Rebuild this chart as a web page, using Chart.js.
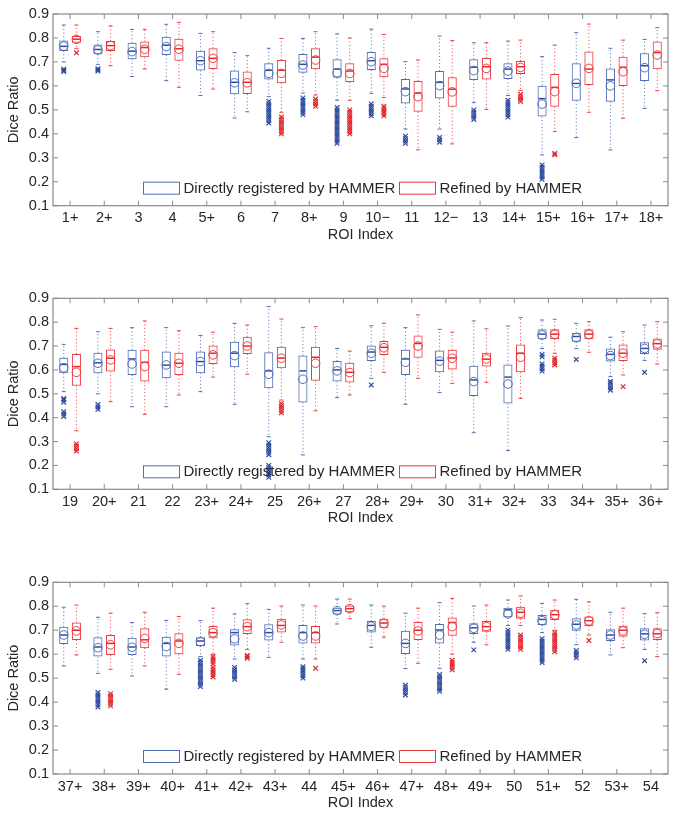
<!DOCTYPE html>
<html><head><meta charset="utf-8">
<script src="https://cdn.jsdelivr.net/npm/chart.js@4"></script>
<style>
html,body{margin:0;padding:0;background:#fff;}
#wrap{position:relative;width:675px;height:815px;overflow:hidden;}
canvas{position:absolute;left:0;}
</style>
</head><body><div id="wrap">
<canvas id="c1" width="675" height="262" style="top:0px"></canvas>
<canvas id="c2" width="675" height="262" style="top:284px"></canvas>
<canvas id="c3" width="675" height="247" style="top:568px"></canvas>
</div>
<script>
const roiLabels = ['1+','2+','3','4','5+','6','7','8+','9','10−','11','12−','13','14+','15+','16+','17+','18+',
 '19','20+','21','22','23+','24+','25','26+','27','28+','29+','30','31+','32+','33','34+','35+','36+',
 '37+','38+','39+','40+','41+','42+','43+','44','45+','46+','47+','48+','49+','50','51+','52','53+','54'];
const yTicks = [0.1,0.2,0.3,0.4,0.5,0.6,0.7,0.8,0.9];
const seriesNames = ['Directly registered by HAMMER','Refined by HAMMER'];

// "Directly registered by HAMMER" (blue)
const blueLow = [0.70,0.69,0.639,0.622,0.56,0.466,0.555,0.57,0.54,0.569,0.42,0.42,0.53,0.56,0.312,0.384,0.333,0.506,
 0.509,0.50,0.446,0.446,0.509,0.456,0.32,0.244,0.484,0.565,0.456,0.505,0.337,0.262,0.69,0.69,0.572,0.64,
 0.551,0.52,0.509,0.454,0.59,0.58,0.587,0.58,0.726,0.629,0.54,0.541,0.65,0.72,0.69,0.64,0.597,0.62];
const blueQ1 = [0.746,0.732,0.711,0.729,0.664,0.565,0.627,0.655,0.634,0.666,0.527,0.547,0.625,0.629,0.472,0.538,0.534,0.62,
 0.586,0.586,0.579,0.565,0.586,0.611,0.523,0.464,0.551,0.637,0.579,0.59,0.491,0.459,0.728,0.718,0.635,0.667,
 0.643,0.59,0.597,0.59,0.634,0.636,0.657,0.645,0.766,0.691,0.601,0.645,0.684,0.754,0.722,0.698,0.655,0.657];
const blueMed = [0.765,0.752,0.745,0.770,0.705,0.615,0.665,0.69,0.67,0.705,0.587,0.615,0.678,0.67,0.547,0.61,0.625,0.684,
 0.623,0.63,0.646,0.62,0.635,0.67,0.596,0.596,0.60,0.675,0.646,0.64,0.558,0.57,0.75,0.74,0.665,0.69,
 0.68,0.63,0.63,0.645,0.655,0.69,0.69,0.69,0.782,0.72,0.645,0.701,0.71,0.785,0.745,0.725,0.68,0.685];
const blueQ3 = [0.789,0.773,0.780,0.805,0.747,0.664,0.694,0.733,0.711,0.741,0.629,0.662,0.711,0.694,0.601,0.694,0.673,0.736,
 0.651,0.672,0.684,0.677,0.677,0.718,0.674,0.66,0.637,0.702,0.684,0.681,0.617,0.623,0.77,0.756,0.69,0.716,
 0.715,0.671,0.669,0.673,0.671,0.704,0.725,0.722,0.794,0.739,0.698,0.726,0.729,0.794,0.764,0.75,0.704,0.708];
const blueHigh = [0.854,0.826,0.836,0.857,0.819,0.739,0.757,0.798,0.817,0.837,0.701,0.808,0.780,0.787,0.722,0.822,0.757,0.794,
 0.707,0.76,0.777,0.777,0.744,0.795,0.865,0.777,0.69,0.785,0.777,0.77,0.805,0.784,0.809,0.795,0.737,0.788,
 0.796,0.754,0.732,0.741,0.74,0.768,0.787,0.805,0.83,0.805,0.771,0.815,0.801,0.826,0.812,0.829,0.775,0.769];
const blueMean = [0.766,0.750,0.743,0.764,0.705,0.613,0.652,0.687,0.655,0.701,0.576,0.601,0.664,0.662,0.524,0.611,0.600,0.676,
 0.609,0.628,0.625,0.621,0.635,0.66,0.582,0.561,0.596,0.67,0.632,0.637,0.551,0.541,0.746,0.735,0.66,0.69,
 0.68,0.627,0.629,0.632,0.652,0.664,0.69,0.676,0.782,0.716,0.645,0.68,0.708,0.768,0.74,0.722,0.68,0.683];
const blueOut = [
 [0.660,0.665,0.670],[0.662,0.667,0.672],[],[],[],[],
 [0.445,0.455,0.465,0.475,0.485,0.495,0.505,0.515,0.525,0.535],
 [0.48,0.49,0.50,0.51,0.52,0.53,0.54,0.55],
 [0.36,0.37,0.38,0.39,0.40,0.41,0.42,0.43,0.44,0.45,0.46,0.47,0.48,0.49,0.50,0.51],
 [0.475,0.485,0.495,0.505,0.515,0.525],
 [0.36,0.37,0.38,0.39],
 [0.365,0.375,0.385],
 [0.46,0.47,0.48,0.49,0.50],
 [0.47,0.48,0.49,0.50,0.51,0.52,0.53,0.54],
 [0.21,0.22,0.23,0.24,0.25,0.26,0.27],
 [],[],[],
 [0.405,0.415,0.425,0.465,0.475,0.48],
 [0.435,0.445,0.455],
 [],[],[],[],
 [0.15,0.16,0.17,0.18,0.19,0.20,0.245,0.255,0.265,0.275,0.285,0.295],
 [],[],[0.537],[],[],[],[],
 [0.595,0.605,0.615,0.625,0.655,0.665],
 [0.644],
 [0.515,0.525,0.535,0.545,0.552],
 [0.59],
 [],
 [0.38,0.39,0.40,0.41,0.42,0.43,0.44],
 [],[],
 [0.465,0.475,0.485,0.495,0.505,0.515,0.525,0.535,0.545,0.555,0.565,0.575],
 [0.495,0.505,0.515,0.525,0.535,0.545],
 [],
 [0.50,0.51,0.52,0.53,0.54,0.548],
 [],[],
 [0.43,0.44,0.45,0.46,0.47],
 [0.445,0.455,0.465,0.475,0.485,0.495,0.505,0.515],
 [0.618],
 [0.62,0.63,0.64,0.65,0.66,0.67,0.68,0.69,0.70],
 [0.565,0.575,0.585,0.595,0.605,0.615,0.625,0.635,0.645,0.655,0.665],
 [0.585,0.595,0.605,0.615],
 [],
 [0.573]
];

// "Refined by HAMMER" (red)
const redLow = [0.755,0.684,0.671,0.594,0.587,0.492,0.49,0.562,0.54,0.552,0.333,0.358,0.502,0.581,0.41,0.49,0.465,0.58,
 0.345,0.467,0.414,0.495,0.57,0.582,0.474,0.429,0.495,0.59,0.565,0.544,0.548,0.481,0.67,0.674,0.579,0.625,
 0.597,0.537,0.551,0.516,0.60,0.62,0.65,0.58,0.748,0.671,0.562,0.60,0.639,0.72,0.70,0.68,0.627,0.59];
const redQ1 = [0.780,0.746,0.719,0.705,0.670,0.566,0.611,0.669,0.616,0.636,0.492,0.513,0.627,0.65,0.513,0.604,0.60,0.669,
 0.534,0.593,0.551,0.579,0.625,0.667,0.607,0.555,0.547,0.663,0.651,0.602,0.614,0.59,0.73,0.73,0.637,0.684,
 0.659,0.597,0.625,0.60,0.666,0.684,0.69,0.645,0.775,0.708,0.659,0.677,0.694,0.748,0.743,0.718,0.673,0.659];
const redMed = [0.795,0.768,0.76,0.755,0.715,0.615,0.665,0.72,0.662,0.69,0.57,0.586,0.68,0.68,0.594,0.67,0.678,0.739,
 0.614,0.649,0.632,0.628,0.67,0.70,0.65,0.653,0.59,0.695,0.711,0.65,0.645,0.67,0.75,0.75,0.67,0.71,
 0.70,0.645,0.66,0.655,0.69,0.715,0.72,0.69,0.79,0.73,0.70,0.732,0.715,0.775,0.765,0.74,0.70,0.685];
const redQ3 = [0.808,0.787,0.785,0.797,0.757,0.660,0.708,0.757,0.694,0.715,0.620,0.636,0.716,0.704,0.65,0.743,0.722,0.785,
 0.667,0.686,0.684,0.672,0.702,0.739,0.697,0.697,0.63,0.721,0.744,0.684,0.672,0.707,0.77,0.77,0.707,0.732,
 0.732,0.68,0.708,0.687,0.718,0.746,0.748,0.718,0.803,0.748,0.734,0.753,0.739,0.798,0.785,0.757,0.719,0.708];
const redHigh = [0.854,0.850,0.836,0.865,0.826,0.726,0.798,0.826,0.80,0.815,0.708,0.789,0.780,0.791,0.770,0.858,0.791,0.843,
 0.774,0.774,0.805,0.764,0.758,0.788,0.813,0.781,0.679,0.795,0.83,0.758,0.772,0.819,0.812,0.802,0.76,0.802,
 0.805,0.771,0.775,0.757,0.792,0.811,0.801,0.801,0.83,0.801,0.792,0.833,0.805,0.843,0.826,0.818,0.792,0.773];
const redMean = [0.794,0.768,0.753,0.753,0.715,0.613,0.652,0.708,0.652,0.673,0.555,0.575,0.673,0.677,0.576,0.673,0.659,0.729,
 0.59,0.642,0.614,0.628,0.663,0.70,0.649,0.628,0.589,0.693,0.70,0.649,0.646,0.653,0.749,0.749,0.67,0.709,
 0.697,0.639,0.666,0.645,0.69,0.715,0.722,0.676,0.79,0.729,0.697,0.715,0.715,0.771,0.764,0.739,0.697,0.686];
const redOut = [
 [0.738],[],[],[],[],[],
 [0.40,0.41,0.42,0.43,0.44,0.45,0.46,0.47],
 [0.515,0.525,0.535,0.545],
 [0.40,0.41,0.42,0.43,0.44,0.45,0.46,0.47,0.48,0.49,0.50],
 [0.475,0.485,0.495,0.505,0.515],
 [],[],[],
 [0.535,0.545,0.555,0.565],
 [0.312,0.318],
 [],[],[],
 [0.26,0.27,0.28,0.29],
 [],[],[],[],[],
 [0.42,0.43,0.44,0.45,0.46],
 [],[],[],[],[],[],[],
 [0.621,0.63,0.64,0.649],
 [],
 [0.53],
 [],
 [],
 [0.385,0.395,0.405,0.415,0.425,0.435],
 [],[],
 [0.505,0.515,0.525,0.535,0.545,0.56,0.57,0.58,0.59],
 [0.583,0.59,0.595],
 [],
 [0.541],
 [],[],[],
 [0.535,0.545,0.555,0.565,0.575],
 [],
 [0.62,0.63,0.64,0.65,0.66,0.67,0.68],
 [0.61,0.62,0.63,0.64,0.65,0.66,0.67,0.68,0.69],
 [0.657],
 [],[]
];

const FONT = "'Liberation Sans', Arial, Helvetica, sans-serif";
const BLUE = '#4f6db5', BLUE_DARK = '#2d4c9f';
const RED = '#ec3b3f', RED_DARK = '#e3262c';
const AXIS = '#8a8a8a', TEXT = '#262626';

function line(ctx,x1,y1,x2,y2){ctx.beginPath();ctx.moveTo(x1,y1);ctx.lineTo(x2,y2);ctx.stroke();}

const boxExtras = {
  id:'boxExtras',
  afterDatasetsDraw(chart){
    const ctx = chart.ctx, ys = chart.scales.y;
    const P = v => ys.getPixelForValue(v);
    chart.data.datasets.forEach((ds,d)=>{
      const meta = chart.getDatasetMeta(d);
      const s = ds.stats;
      meta.data.forEach((el,i)=>{
        const cx = el.x, hw = el.width/2;
        const q1 = P(ds.data[i][0]), q3 = P(ds.data[i][1]);
        const lo = P(s.low[i]), hi = P(s.high[i]);
        ctx.save();
        ctx.strokeStyle = ds.borderColor; ctx.lineWidth = 1;
        ctx.setLineDash([1,2.5]);
        line(ctx,cx,q3,cx,hi); line(ctx,cx,q1,cx,lo);
        ctx.setLineDash([]);
        line(ctx,cx-2,hi,cx+2,hi); line(ctx,cx-2,lo,cx+2,lo);
        // median
        ctx.strokeStyle = s.dark; ctx.lineWidth = 1.5;
        const m = P(s.med[i]); line(ctx,cx-hw+1,m,cx+hw-1,m);
        // outliers
        ctx.strokeStyle = s.dark; ctx.lineWidth = 1.2;
        s.out[i].forEach(v=>{
          const oy = P(v);
          line(ctx,cx-2.3,oy-2.3,cx+2.3,oy+2.3); line(ctx,cx-2.3,oy+2.3,cx+2.3,oy-2.3);
        });
        // mean circle
        ctx.strokeStyle = ds.borderColor; ctx.lineWidth = 1;
        ctx.beginPath(); ctx.arc(cx,P(s.mean[i]),4.3,0,Math.PI*2); ctx.stroke();
        ctx.restore();
      });
    });
  }
};

const frame = {
  id:'frame',
  afterDraw(chart){
    const ctx = chart.ctx, a = chart.chartArea, xs = chart.scales.x, ys = chart.scales.y;
    ctx.save();
    ctx.strokeStyle = AXIS; ctx.lineWidth = 1.2;
    ctx.strokeRect(a.left, a.top, a.right-a.left, a.bottom-a.top);
    ctx.lineWidth = 1;
    ys.ticks.forEach((t,i)=>{
      const y = ys.getPixelForTick(i);
      line(ctx,a.left,y,a.left+5,y); line(ctx,a.right-5,y,a.right,y);
    });
    xs.ticks.forEach((t,i)=>{
      const x = xs.getPixelForTick(i);
      line(ctx,x,a.bottom,x,a.bottom-5); line(ctx,x,a.top,x,a.top+5);
    });
    // legend
    const ly = a.bottom - 24;
    const items = [{x:a.left+90, c:BLUE, t:seriesNames[0]},{x:a.left+346, c:RED, t:seriesNames[1]}];
    ctx.font = '15px ' + FONT; ctx.textBaseline = 'middle'; ctx.textAlign = 'left';
    items.forEach(it=>{
      ctx.strokeStyle = it.c; ctx.lineWidth = 1;
      ctx.strokeRect(it.x+0.5, ly+0.5, 36, 12);
      ctx.fillStyle = TEXT;
      ctx.fillText(it.t, it.x+40.5, ly+7);
    });
    ctx.restore();
  }
};

function buildPanel(id, start, padTop, padBottom){
  const sl = a => a.slice(start, start+18);
  const mk = (name, color, dark, low, q1, med, q3, high, mean, out) => ({
    label: name,
    data: sl(q1).map((v,i)=>[v, sl(q3)[i]]),
    backgroundColor: 'rgba(0,0,0,0)',
    borderColor: color, borderWidth: 1, borderSkipped: false,
    categoryPercentage: 0.74, barPercentage: 0.72,
    stats: {low: sl(low), med: sl(med), high: sl(high), mean: sl(mean), out: sl(out), dark}
  });
  new Chart(document.getElementById(id), {
    type: 'bar',
    data: {
      labels: sl(roiLabels),
      datasets: [
        mk(seriesNames[0], BLUE, BLUE_DARK, blueLow, blueQ1, blueMed, blueQ3, blueHigh, blueMean, blueOut),
        mk(seriesNames[1], RED, RED_DARK, redLow, redQ1, redMed, redQ3, redHigh, redMean, redOut)
      ]
    },
    options: {
      responsive: false, animation: false, devicePixelRatio: 1,
      layout: {padding: {top: padTop, right: 7, bottom: padBottom, left: 0}},
      plugins: {legend: {display: false}, tooltip: {enabled: false}},
      scales: {
        x: {
          type: 'category',
          grid: {display: false, drawTicks: false}, border: {display: false},
          ticks: {font: {family: FONT, size: 14.5}, color: TEXT, padding: 4, maxRotation: 0, autoSkip: false},
          title: {display: true, text: 'ROI Index', font: {family: FONT, size: 14.5}, color: TEXT, padding: {top: 0, bottom: 2.5}},
          afterFit(s){ s.height = 40; }
        },
        y: {
          min: 0.1, max: 0.9,
          afterBuildTicks(s){ s.ticks = yTicks.map(v=>({value: v})); },
          grid: {display: false, drawTicks: false}, border: {display: false},
          ticks: {font: {family: FONT, size: 14.5}, color: TEXT, padding: 4, callback: v => Number(v).toFixed(1)},
          title: {display: true, text: 'Dice Ratio', font: {family: FONT, size: 14.5}, color: TEXT, padding: {top: 5.3, bottom: 0}},
          afterFit(s){ s.width = 53; }
        }
      }
    },
    plugins: [boxExtras, frame]
  });
}

buildPanel('c1', 0, 14, 16.3);
buildPanel('c2', 18, 14.3, 16.7);
buildPanel('c3', 36, 14.3, 1);
</script>
</body></html>
